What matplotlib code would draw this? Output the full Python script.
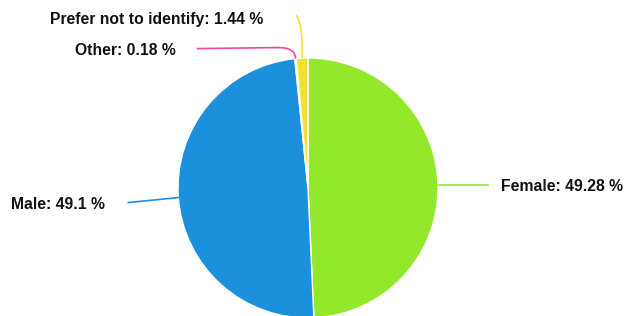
import numpy as np
import matplotlib
matplotlib.use('Agg')
import matplotlib.pyplot as plt
from matplotlib.path import Path
from matplotlib.patches import PathPatch

labels = ['Female', 'Male', 'Other', 'Prefer not to identify']
values = [49.28, 49.1, 0.18, 1.44]
colors = ['#94e82c', '#1b90dd', '#f0489c', '#f0e232']

W, H = 624, 316
cx, cy, r = 308, 316 - 188, 130

fig = plt.figure(figsize=(W / 100, H / 100), dpi=100)
ax = fig.add_axes([0, 0, 1, 1])

wedges, _ = ax.pie(values, colors=colors, startangle=90, counterclock=False,
                   center=(cx, cy), radius=r, frame=True,
                   wedgeprops=dict(edgecolor='white', linewidth=1))
ax.set_xlim(0, W)
ax.set_ylim(0, H)
ax.set_aspect('equal')
ax.axis('off')


def edge_point(w, rr=r):
    ang = np.deg2rad((w.theta1 + w.theta2) / 2)
    return cx + rr * np.cos(ang), cy + rr * np.sin(ang)


def leader(p0, p1, p2, color):
    # quadratic bend from p0 through control p1 to p2
    path = Path([p0, p1, p2], [Path.MOVETO, Path.CURVE3, Path.CURVE3])
    ax.add_patch(PathPatch(path, fill=False, edgecolor=color, lw=1.2))


font = dict(fontsize=11.3, fontweight='bold', family='Liberation Sans', color='#111111')

# Female
x0, y0 = edge_point(wedges[0])
ax.plot([x0, x0 + 50], [y0, y0], color=colors[0], lw=1.2)
ax.text(x0 + 63, y0 - 1, f'{labels[0]}: {values[0]} %', ha='left', va='center', **font)

# Male
x0, y0 = edge_point(wedges[1])
ax.plot([x0, x0 - 50], [y0, y0 - 5], color=colors[1], lw=1.2)
ax.text(x0 - 73, y0 - 7, f'{labels[1]}: {values[1]} %', ha='right', va='center', **font)

# Other
x0, y0 = edge_point(wedges[2])
leader((x0, y0), (x0, y0 + 12), (x0 - 20, y0 + 11), colors[2])
ax.plot([x0 - 20, x0 - 98], [y0 + 11, y0 + 10], color=colors[2], lw=1.2)
ax.text(x0 - 120, y0 + 8, f'{labels[2]}: {values[2]} %', ha='right', va='center', **font)

# Prefer not to identify
x0, y0 = edge_point(wedges[3])
leader((x0, y0), (x0 + 1, y0 + 35), (x0 - 6, y0 + 43), colors[3])
ax.text(x0 - 39, y0 + 39, f'{labels[3]}: {values[3]} %', ha='right', va='center', **font)

fig.savefig('out.png', dpi=100, facecolor='white')
